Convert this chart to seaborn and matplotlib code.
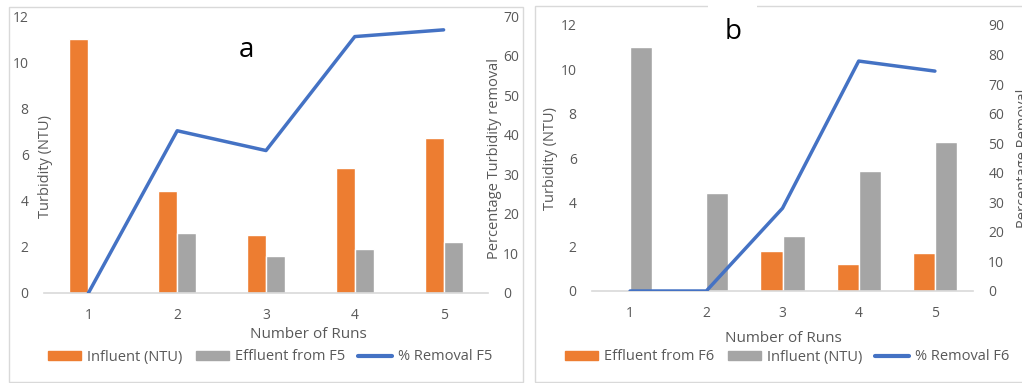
import numpy as np
import pandas as pd
import matplotlib
matplotlib.use("Agg")
import matplotlib.pyplot as plt
import seaborn as sns
from matplotlib.patches import Patch, Rectangle
from matplotlib.lines import Line2D

# dane
runs = ["1", "2", "3", "4", "5"]

influent_a = [11.0, 4.4, 2.5, 5.4, 6.7]
effluent_f5 = [0.0, 2.6, 1.6, 1.9, 2.2]
removal_f5 = [0.0, 41.0, 36.0, 64.8, 66.5]

effluent_f6 = [0.0, 0.0, 1.8, 1.2, 1.7]
influent_b = [11.0, 4.4, 2.5, 5.4, 6.7]
removal_f6 = [0.0, 0.0, 28.0, 77.8, 74.4]

ORANGE = "#ED7D31"
GRAY = "#A5A5A5"
BLUE = "#4472C4"
TXT = "#595959"
FRAME = "#D9D9D9"

W, H = 1022, 383
sns.set_theme(style="white")
plt.rcParams["font.family"] = ["Open Sans", "DejaVu Sans"]

fig = plt.figure(figsize=(W / 100, H / 100), dpi=100)


def px_axes(left, top, right, bottom):
    return fig.add_axes([left / W, (H - bottom) / H, (right - left) / W, (bottom - top) / H])


def draw_panel(ax, names, values, colors, width, removal, rmax, rstep, ylabel2,
               ylab_pos, ylab2_pos):
    df = pd.DataFrame({
        "run": runs * 2,
        "value": values[0] + values[1],
        "series": [names[0]] * 5 + [names[1]] * 5,
    })
    sns.barplot(data=df, x="run", y="value", hue="series", hue_order=names,
                palette=colors, width=width, saturation=1, ax=ax, legend=False)
    ax.set_ylim(0, 12)
    ax.set_yticks(range(0, 13, 2))
    ax.set_xlim(-0.5, 4.5)
    ax.set_xlabel("")
    ax.set_ylabel("Turbidity (NTU)", color=TXT, fontsize=10.5)
    ax.yaxis.set_label_coords(*ylab_pos)
    for s in ["top", "right", "left"]:
        ax.spines[s].set_visible(False)
    ax.spines["bottom"].set_color(FRAME)
    ax.spines["bottom"].set_linewidth(1.2)
    ax.tick_params(axis="y", length=0, colors=TXT, labelsize=10, pad=11)
    ax.tick_params(axis="x", length=0, colors=TXT, labelsize=10, pad=11)
    ax.grid(False)

    ax2 = ax.twinx()
    sns.lineplot(x=np.arange(5), y=removal, ax=ax2, color=BLUE, linewidth=2.5)
    ax2.set_ylim(0, rmax)
    ax2.set_yticks(range(0, rmax + 1, rstep))
    ax2.set_xlim(-0.5, 4.5)
    ax2.set_ylabel(ylabel2, color=TXT, fontsize=10.5)
    ax2.yaxis.set_label_coords(*ylab2_pos)
    for s in ["top", "right", "left", "bottom"]:
        ax2.spines[s].set_visible(False)
    ax2.tick_params(length=0, colors=TXT, labelsize=10, pad=11)
    ax2.grid(False)
    return ax2


# ramki wykresów
fig.add_artist(Rectangle((9 / W, 1 - 382 / H), (523 - 9) / W, (382 - 7) / H,
                         transform=fig.transFigure, fill=False, edgecolor=FRAME, lw=1))
fig.add_artist(Rectangle((535 / W, 1 - 382 / H), (1030 - 535) / W, (382 - 6) / H,
                         transform=fig.transFigure, fill=False, edgecolor=FRAME, lw=1))
fig.add_artist(Rectangle((708 / W, 1 - 9 / H), (757 - 708) / W, 6 / H,
                         transform=fig.transFigure, color="white", lw=0))

# panel a
ax_a = px_axes(44, 16, 488, 293)
draw_panel(ax_a, ["Influent (NTU)", "Effluent from F5"], [influent_a, effluent_f5],
           [ORANGE, GRAY], 0.43, removal_f5, 70, 10,
           "Percentage Turbidity removal", (0.02, 0.455), (0.998, 0.484))
fig.text(246 / W, 1 - 50 / H, "a", fontsize=20, ha="center", va="center", color="black")
fig.text(308 / W, 1 - 334 / H, "Number of Runs", ha="center", va="center",
         fontsize=11, color=TXT)
fig.legend(handles=[Patch(color=ORANGE, label="Influent (NTU)"),
                    Patch(color=GRAY, label="Effluent from F5"),
                    Line2D([], [], color=BLUE, lw=3, label="% Removal F5")],
           loc="center", bbox_to_anchor=(270 / W, 1 - 357 / H), ncol=3, frameon=False,
           fontsize=10.5, labelcolor=TXT, handlelength=2.3, handleheight=0.55,
           columnspacing=0.9, handletextpad=0.4)

# panel b
ax_b = px_axes(592, 25, 973, 291)
draw_panel(ax_b, ["Effluent from F6", "Influent (NTU)"], [effluent_f6, influent_b],
           [ORANGE, GRAY], 0.58, removal_f6, 90, 10,
           "Percentage Removal", (-0.089, 0.5), (1.113, 0.5))
fig.text(733 / W, 1 - 32 / H, "b", fontsize=20, ha="center", va="center", color="black")
fig.text(783 / W, 1 - 339 / H, "Number of Runs", ha="center", va="center",
         fontsize=11, color=TXT)
fig.legend(handles=[Patch(color=ORANGE, label="Effluent from F6"),
                    Patch(color=GRAY, label="Influent (NTU)"),
                    Line2D([], [], color=BLUE, lw=3, label="% Removal F6")],
           loc="center", bbox_to_anchor=(787 / W, 1 - 357 / H), ncol=3, frameon=False,
           fontsize=10.5, labelcolor=TXT, handlelength=2.3, handleheight=0.55,
           columnspacing=0.9, handletextpad=0.4)

fig.savefig("out.png", dpi=100)
